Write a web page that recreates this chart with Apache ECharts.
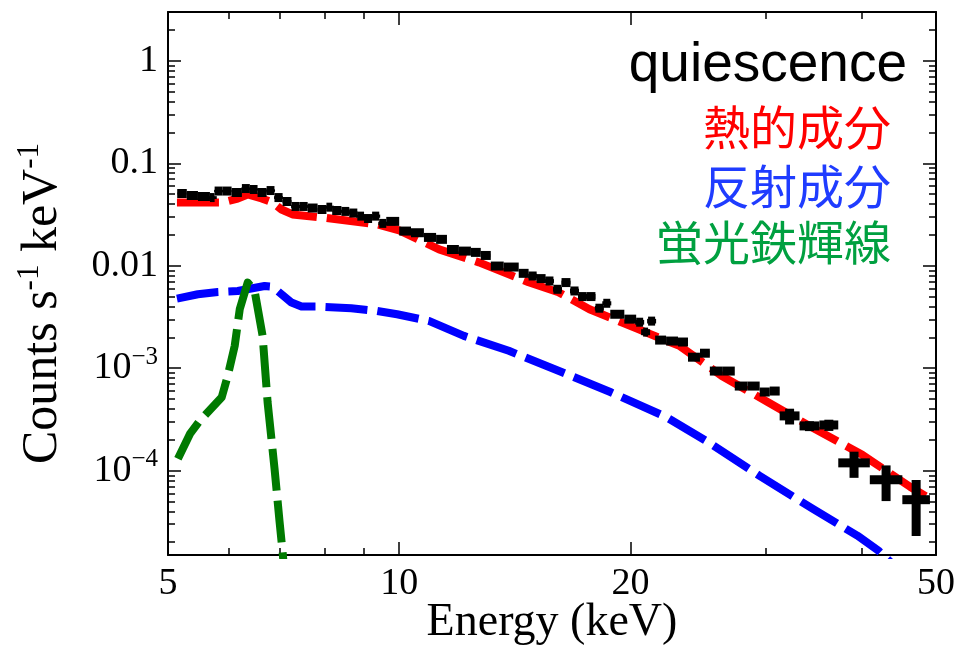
<!DOCTYPE html>
<html>
<head>
<meta charset="utf-8">
<script src="https://cdn.jsdelivr.net/npm/echarts@6/dist/echarts.min.js"></script>
<style>
html,body{margin:0;padding:0;background:#fff;}
#chart{width:955px;height:646px;}
</style>
</head>
<body>
<div id="chart"></div>
<script>
// ---- observed spectrum (black crosses): energy bin edges (keV), counts, 1-sigma errors
const binLo = [5.14,5.29,5.47,5.67,5.75,5.89,6.05,6.24,6.39,6.54,6.72,6.88,7.05,7.24,7.42,7.60,7.83,8.04,8.18,8.41,8.61,8.82,9.00,9.22,9.42,9.62,
  10.0,10.36,10.77,11.17,11.54,11.96,12.40,12.77,13.16,13.68,14.31,14.74,15.10,15.51,15.88,16.27,16.71,17.12,17.53,18.01,18.44,18.83,
  19.64,20.35,20.78,21.09,21.54,22.26,23.07,23.77,24.64,25.38,26.39,27.35,28.43,29.47,30.37,31.29,33.21,35.25,37.30,41.00,45.20];
const binHi = [5.29,5.47,5.67,5.75,5.89,6.05,6.24,6.39,6.54,6.72,6.88,7.05,7.24,7.42,7.60,7.83,8.04,8.18,8.41,8.61,8.82,9.00,9.22,9.42,9.62,10.0,
  10.36,10.77,11.17,11.54,11.96,12.40,12.77,13.16,13.68,14.31,14.74,15.10,15.51,15.88,16.27,16.71,17.12,17.53,18.01,18.44,18.83,19.64,
  20.35,20.78,21.09,21.54,22.26,23.07,23.77,24.64,25.38,26.39,27.35,28.43,29.47,30.37,31.29,33.21,35.25,37.30,41.00,45.20,49.10];
const counts = [0.0507,0.0485,0.0474,0.0463,0.0536,0.0536,0.0519,0.0567,0.0555,0.0519,0.0542,0.0463,0.0424,0.0379,0.0379,0.0366,0.0354,0.0373,0.0346,0.0339,0.0327,0.0305,0.0289,0.0305,0.0259,0.0271,
  0.0218,0.0210,0.0189,0.0181,0.0144,0.0139,0.0135,0.0126,0.00993,0.00971,0.00843,0.00794,0.00749,0.00710,0.00589,0.00685,0.00567,0.00500,0.00500,0.00385,0.00430,0.00336,
  0.00301,0.00281,0.00225,0.00288,0.00188,0.00184,0.00180,0.00128,0.00140,0.000937,0.000937,0.000669,0.000669,0.000585,0.000598,0.000342,0.000273,0.000279,0.000119,0.0000814,0.0000520];
const countErr = [0.0012,0.0012,0.0012,0.0015,0.0015,0.0014,0.0014,0.0015,0.0015,0.0014,0.0015,0.0014,0.0013,0.0012,0.0012,0.0011,0.0011,0.0013,0.0011,0.0011,0.0011,0.0011,0.0010,0.0011,0.0010,0.0008,
  0.0007,0.0007,0.0006,0.0006,0.0005,0.0005,0.0005,0.0005,0.0004,0.0004,0.0004,0.0004,0.0003,0.0003,0.0003,0.0003,0.0003,0.0003,0.0003,0.0002,0.0002,0.0002,
  0.00015,0.00015,0.00015,0.00015,0.0001,0.0001,0.0001,0.00008,0.00008,0.00006,0.00006,0.00005,0.00005,0.00005,0.00005,0.00006,0.00003,0.000035,0.000034,0.000031,0.000029];

// ---- model components
const thermalE = [5.136,5.874,6.163,6.349,6.620,6.841,7.027,7.263,7.943,9.36,10.0,11.27,12.70,14.74,16.12,17.69,20.47,23.21,26.31,30.18,34.22,40.09,46.26,49.1];
const thermalV = [0.04144,0.0414,0.04532,0.04957,0.04532,0.04144,0.03541,0.03166,0.02960,0.02530,0.02212,0.01444,0.01079,0.006893,0.005508,0.003763,0.002403,0.001641,0.000838,0.000468,0.000273,0.0001425,0.0000696,0.0000531];
const reflE = [5.136,5.469,5.806,6.163,6.680,6.821,6.944,7.241,7.461,7.825,8.662,9.36,9.937,10.93,12.14,13.89,16.27,18.83,22.26,25.23,29.47,34.53,39.49,42.05,44.49];
const reflV = [0.004781,0.005265,0.005545,0.005671,0.006343,0.006259,0.005671,0.004372,0.003997,0.003997,0.003847,0.003622,0.003363,0.002893,0.002067,0.001477,0.000916,0.000585,0.000334,0.0001908,0.0000890,0.0000425,0.0000232,0.0000166,0.0000111];
const feE = [5.151,5.340,5.502,5.874,5.981,6.107,6.200,6.349,6.483,6.640,6.740,6.882,6.986,7.049,7.11];
const feV = [0.0001303,0.0002282,0.0003074,0.0005196,0.000843,0.001652,0.003763,0.006846,0.005671,0.002067,0.000465,0.0001041,0.0000317,0.0000162,0.000008];

// ---- axes ticks / labels
const xMajorTicks = [10, 20];
const xMinorTicks = [6, 7, 8, 9, 30, 40];
const xLabelValues = [5, 10, 20, 50];
const yMajorTicks = [1e-4, 1e-3, 0.01, 0.1, 1];
const yMajorLabels = ['{b|10}{s|−4}', '{b|10}{s|−3}', '0.01', '0.1', '1'];
const yMinorTicks = [2e-5,3e-5,4e-5,5e-5,6e-5,7e-5,8e-5,9e-5,
  2e-4,3e-4,4e-4,5e-4,6e-4,7e-4,8e-4,9e-4,
  0.002,0.003,0.004,0.005,0.006,0.007,0.008,0.009,
  0.02,0.03,0.04,0.05,0.06,0.07,0.08,0.09,
  0.2,0.3,0.4,0.5,0.6,0.7,0.8,0.9,2];
const legendTexts = ['quiescence', '熱的成分', '反射成分', '蛍光鉄輝線'];

const X_MIN = 5, X_MAX = 50, Y_MIN = 1.5e-5, Y_MAX = 3;
const SERIF = '"Liberation Serif","Times New Roman",serif';
const TICK_FS = 38;

function zip(a, b) { return a.map((v, i) => [v, b[i]]); }

function xAxisDef(pos, tickVals, len, withLabel, withLine) {
  return {
    type: 'log', logBase: 10, min: X_MIN, max: X_MAX, position: pos, gridIndex: 0,
    splitLine: {show: false},
    axisLine: {show: withLine, onZero: false, lineStyle: {color: '#000', width: 2}},
    axisTick: {show: true, inside: true, length: len, customValues: tickVals, lineStyle: {color: '#000', width: 1.5}},
    axisLabel: withLabel ? {show: true, customValues: xLabelValues, margin: 10, color: '#000',
      fontFamily: SERIF, fontSize: TICK_FS, formatter: v => String(Math.round(v))} : {show: false},
    minorTick: {show: false}
  };
}
function yAxisDef(pos, tickVals, len, withLabel, withLine) {
  return {
    type: 'log', logBase: 10, min: Y_MIN, max: Y_MAX, position: pos, gridIndex: 0,
    splitLine: {show: false},
    axisLine: {show: withLine, onZero: false, lineStyle: {color: '#000', width: 2}},
    axisTick: {show: true, inside: true, length: len, customValues: tickVals, lineStyle: {color: '#000', width: 1.5}},
    axisLabel: withLabel ? {
      show: true, customValues: yMajorTicks, margin: 10, color: '#000',
      fontFamily: SERIF, fontSize: TICK_FS,
      formatter: function (v) {
        const k = Math.round(Math.log10(v));
        const idx = yMajorTicks.findIndex(t => Math.round(Math.log10(t)) === k);
        return idx >= 0 ? yMajorLabels[idx] : '';
      },
      rich: {
        b: {fontFamily: SERIF, fontSize: TICK_FS, color: '#000'},
        s: {fontFamily: SERIF, fontSize: 25, color: '#000', padding: [0, 0, 22, 0]}
      }
    } : {show: false},
    minorTick: {show: false}
  };
}

const chart = echarts.init(document.getElementById('chart'), null, {renderer: 'canvas'});

const xAxes = [
  xAxisDef('bottom', xMajorTicks, 13, true, true),
  xAxisDef('bottom', xMinorTicks, 7, false, false),
  xAxisDef('top', xMajorTicks, 13, false, true),
  xAxisDef('top', xMinorTicks, 7, false, false)
];
xAxes[0].name = 'Energy (keV)';
xAxes[0].nameLocation = 'middle';
xAxes[0].nameGap = 45;
xAxes[0].nameMoveOverlap = false;
xAxes[0].nameTextStyle = {fontFamily: SERIF, fontSize: 46, color: '#000'};

const yAxes = [
  yAxisDef('left', yMajorTicks, 13, true, true),
  yAxisDef('left', yMinorTicks, 7, false, false),
  yAxisDef('right', yMajorTicks, 13, false, true),
  yAxisDef('right', yMinorTicks, 7, false, false)
];
yAxes[0].name = '{t|Counts s}{u|-1}{t| keV}{u|-1}';
yAxes[0].nameLocation = 'middle';
yAxes[0].nameGap = 97;
yAxes[0].nameRotate = 90;
yAxes[0].nameMoveOverlap = false;
yAxes[0].nameTextStyle = {
  fontFamily: SERIF, fontSize: 50, color: '#000',
  padding: [0, 40, 0, 0],
  rich: {
    t: {fontFamily: SERIF, fontSize: 50, color: '#000'},
    u: {fontFamily: SERIF, fontSize: 31, color: '#000', padding: [0, 0, 26, 0]}
  }
};

function renderBins(params, api) {
  const lo = api.value(0), hi = api.value(1), v = api.value(2), e = api.value(3);
  const p0 = api.coord([lo, v]);
  const p1 = api.coord([hi, v]);
  const mid = Math.sqrt(lo * hi);
  const top = api.coord([mid, v + e]);
  const bot = api.coord([mid, Math.max(v - e, 1e-9)]);
  return {
    type: 'group',
    children: [
      {type: 'line', shape: {x1: p0[0], y1: p0[1], x2: p1[0], y2: p1[1]}, style: {stroke: '#000', lineWidth: 9}},
      {type: 'line', shape: {x1: top[0], y1: top[1], x2: bot[0], y2: bot[1]}, style: {stroke: '#000', lineWidth: 9}}
    ]
  };
}

const dashed = (color) => ({color: color, width: 8, type: [42, 10], cap: 'butt', join: 'round'});

const option = {
  animation: false,
  backgroundColor: '#fff',
  grid: {left: 168, right: 19, top: 12, bottom: 91, containLabel: false, outerBoundsMode: 'none'},
  xAxis: xAxes,
  yAxis: yAxes,
  series: [
    {type: 'line', name: 'refl', data: zip(reflE, reflV), xAxisIndex: 0, yAxisIndex: 0,
      showSymbol: false, symbol: 'none', lineStyle: dashed('#0000ff'), z: 2, clip: true},
    {type: 'line', name: 'fe', data: zip(feE, feV), xAxisIndex: 0, yAxisIndex: 0,
      showSymbol: false, symbol: 'none', lineStyle: dashed('#007a00'), z: 3, clip: true},
    {type: 'line', name: 'thermal', data: zip(thermalE, thermalV), xAxisIndex: 0, yAxisIndex: 0,
      showSymbol: false, symbol: 'none', lineStyle: dashed('#ff0000'), z: 4, clip: true},
    {type: 'custom', name: 'data', renderItem: renderBins, xAxisIndex: 0, yAxisIndex: 0,
      data: binLo.map((lo, i) => [lo, binHi[i], counts[i], countErr[i]]),
      encode: {x: [0, 1], y: 2}, z: 5, clip: true}
  ],
  graphic: [
    {type: 'text', right: 48, top: 38, z: 10,
      style: {text: legendTexts[0], fill: '#000', font: '55px "Liberation Sans", Arial, sans-serif'}},
    {type: 'text', right: 64, top: 104, z: 10,
      style: {text: legendTexts[1], fill: '#ff0000', font: '47px "Noto Sans CJK JP", sans-serif'}},
    {type: 'text', right: 64, top: 163, z: 10,
      style: {text: legendTexts[2], fill: '#1f3cff', font: '47px "Noto Sans CJK JP", sans-serif'}},
    {type: 'text', right: 64, top: 219, z: 10,
      style: {text: legendTexts[3], fill: '#00a040', font: '47px "Noto Sans CJK JP", sans-serif'}}
  ]
};
chart.setOption(option);
</script>
</body>
</html>
